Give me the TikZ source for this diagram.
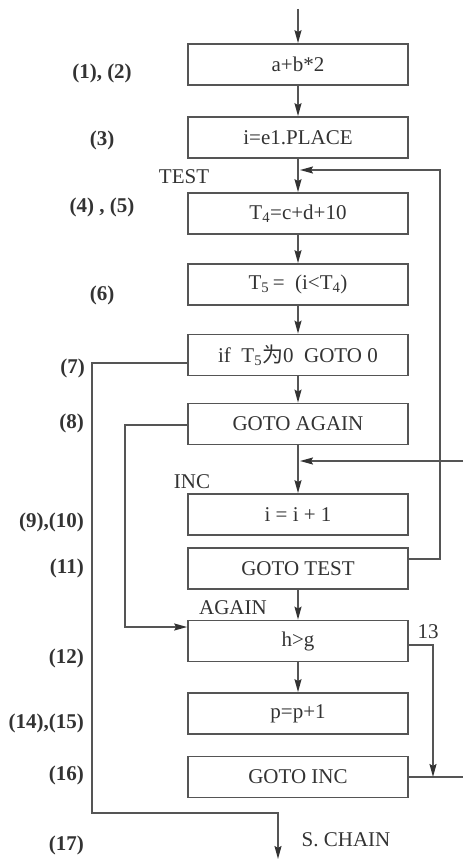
\documentclass[tikz,border=0pt]{standalone}
\usepackage{fontspec}
\setmainfont{Liberation Serif}
\newfontfamily\cjk{Noto Sans CJK SC}
\usetikzlibrary{arrows.meta}
\definecolor{linec}{HTML}{555555}
\definecolor{textc}{HTML}{333333}
\begin{document}
\begin{tikzpicture}[x=1pt,y=-1pt,
  font=\fontsize{21}{24}\selectfont,
  every node/.style={text=textc},
  box/.style={draw=linec,line width=1.7pt,minimum width=220pt,minimum height=41pt,inner sep=0pt},
  lab/.style={font=\fontsize{21}{24}\selectfont\bfseries,inner sep=0pt},
  tag/.style={inner sep=0pt},
  conn/.style={draw=linec,line width=1.7pt},
  arr/.style={conn,-{Stealth[length=13pt,width=7pt,inset=2pt,color=black!80]}}]
\useasboundingbox (0,0) rectangle (463,861);

\node[box] (b1) at (298,64.5) {a+b*2};
\node[box] (b2) at (298,137.5) {i=e1.PLACE};
\node[box] (b3) at (298,213.5) {T\textsubscript{4}=c+d+10};
\node[box] (b4) at (298,284.5) {T\textsubscript{5}\,=\ \ (i<T\textsubscript{4})};
\node[box] (b5) at (298,355) {if\ \ T\textsubscript{5}{\cjk 为}0\ \ GOTO 0};
\node[box] (b6) at (298,424) {GOTO AGAIN};
\node[box] (b7) at (298,514.5) {i = i + 1};
\node[box] (b8) at (298,568.5) {GOTO TEST};
\node[box] (b9) at (298,641) {h>g};
\node[box] (b10) at (298,713.5) {p=p+1};
\node[box] (b11) at (298,777) {GOTO INC};

% left labels
\node[lab] (l1) at (102,73) {(1), (2)};
\node[lab] (l3) at (102,140) {(3)};
\node[lab] (l4) at (102,207) {(4) , (5)};
\node[lab] (l6) at (102,295) {(6)};
\node[lab,anchor=east] (l7) at (85,368) {(7)};
\node[lab,anchor=east] (l8) at (84,423) {(8)};
\node[lab,anchor=east] (l9) at (84,522) {(9),(10)};
\node[lab,anchor=east] (l11) at (84,568) {(11)};
\node[lab,anchor=east] (l12) at (84,658) {(12)};
\node[lab,anchor=east] (l14) at (84,723) {(14),(15)};
\node[lab,anchor=east] (l16) at (84,775) {(16)};
\node[lab,anchor=east] (l17) at (84,845) {(17)};

% other labels
\node[tag] (ttest) at (184,177) {TEST};
\node[tag] (tinc) at (192,482) {INC};
\node[tag] (tagain) at (233,608) {AGAIN};
\node[tag] (t13) at (428,632) {13};
\node[tag] (tsc) at (346,840) {S. CHAIN};

% junction coordinates
\coordinate (start) at (298,9);
\coordinate (testj) at (300,170);
\coordinate (incj) at (300,461);
\coordinate (incin) at (463,461);
\coordinate (incout) at (463,777);
\coordinate (endp) at (278,859);

% main flow
\draw[arr] (start) -- (b1.north);
\draw[arr] (b1) -- (b2);
\draw[arr] (b2) -- (b3);
\draw[arr] (b3) -- (b4);
\draw[arr] (b4) -- (b5);
\draw[arr] (b5) -- (b6);
\draw[arr] (b6) -- (b7);
\draw[arr] (b8) -- (b9);
\draw[arr] (b9) -- (b10);

% loop back to TEST
\draw[arr] ([yshift=9.5pt]b8.east) -| (440,170) -- (testj);
% to INC
\draw[arr] (incin) -- (incj);
\draw[conn] (b11.east) -- (incout);
\draw[arr] ([yshift=-4pt]b9.east) -| (433,777);
% GOTO AGAIN
\draw[arr] ([yshift=-1pt]b6.west) -| (125,627) -- ([yshift=14pt]b9.west);
% if T5 = 0 exit
\draw[arr] ([yshift=-8pt]b5.west) -| (92,813) -| (endp);
\end{tikzpicture}
\end{document}
